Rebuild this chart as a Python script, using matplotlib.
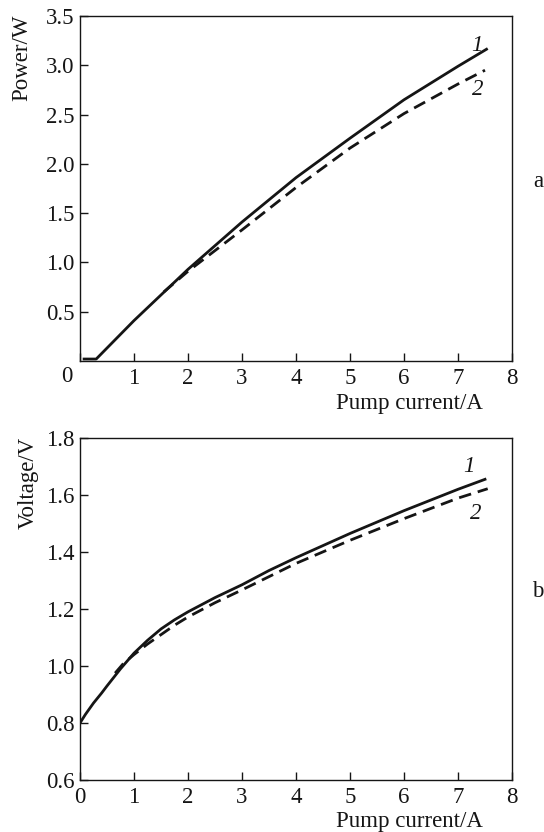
import matplotlib.pyplot as plt
from matplotlib.transforms import blended_transform_factory

# curve 1 (solid) and curve 2 (dashed), power
current_p1 = [0.05, 0.3, 1.0, 2.0, 3.0, 4.0, 5.0, 6.0, 7.0, 7.55]
power_1 = [0.02, 0.02, 0.41, 0.93, 1.41, 1.86, 2.26, 2.65, 2.99, 3.17]
current_p2 = [1.55, 2.0, 3.0, 4.0, 5.0, 6.0, 7.0, 7.5]
power_2 = [0.70, 0.91, 1.33, 1.76, 2.16, 2.51, 2.81, 2.95]

# voltage
current_v1 = [0.0, 0.1, 0.25, 0.4, 0.5, 0.75, 1.0, 1.25, 1.5, 1.75, 2.0, 2.5, 3.0, 3.5, 4.0, 5.0, 6.0, 7.0, 7.5]
voltage_1 = [0.80, 0.83, 0.87, 0.905, 0.93, 0.99, 1.045, 1.09, 1.13, 1.162, 1.19, 1.24, 1.285, 1.335, 1.38, 1.465, 1.545, 1.62, 1.655]
current_v2 = [0.65, 0.8, 1.0, 1.25, 1.5, 1.75, 2.0, 2.5, 3.0, 4.0, 5.0, 6.0, 7.0, 7.55]
voltage_2 = [0.975, 1.008, 1.04, 1.077, 1.11, 1.143, 1.172, 1.222, 1.267, 1.36, 1.441, 1.517, 1.589, 1.622]

x_ticks = [0, 1, 2, 3, 4, 5, 6, 7, 8]
power_ticks = [0.5, 1.0, 1.5, 2.0, 2.5, 3.0, 3.5]
voltage_ticks = [0.6, 0.8, 1.0, 1.2, 1.4, 1.6, 1.8]

plt.rcParams['font.family'] = ['Liberation Serif', 'DejaVu Serif']
fs = 16.5
col = '#151515'

fig = plt.figure(figsize=(5.44, 8.32), dpi=100)
ax1 = fig.add_axes([80/544, 1 - 361/832, 432/544, 345/832])
ax2 = fig.add_axes([80/544, 1 - 780/832, 432/544, 342/832])


def style(ax, yticks, fmt):
    ax.set_xlim(0, 8)
    ax.set_ylim(yticks[0] if fmt == 'v' else 0, yticks[-1])
    ax.set_xticks(x_ticks)
    ax.set_yticks(yticks)
    ax.set_yticklabels(['%.1f' % t for t in yticks])
    ax.tick_params(direction='in', length=6, width=1, color=col,
                   labelsize=fs, labelcolor=col, top=False, right=False)
    ax.tick_params(axis='x', pad=5)
    ax.tick_params(axis='y', pad=4)
    for s in ax.spines.values():
        s.set_linewidth(1.0)
        s.set_color(col)


style(ax1, power_ticks, 'p')
style(ax2, voltage_ticks, 'v')

# top panel: origin "0" sits left of the corner
ax1.set_xticklabels([''] + [str(t) for t in x_ticks[1:]])
tr = blended_transform_factory(ax1.transData, ax1.transAxes)
ax1.text(-0.25, -0.015, '0', transform=tr, ha='center', va='top', fontsize=fs, color=col)

ax1.plot(current_p1, power_1, color=col, lw=2.0, solid_capstyle='butt')
ax1.plot(current_p2, power_2, color=col, lw=2.0, dashes=(4.5, 2.5))
ax2.plot(current_v1, voltage_1, color=col, lw=2.0)
ax2.plot(current_v2, voltage_2, color=col, lw=2.0, dashes=(4.5, 2.5))

ax1.text(7.35, 3.2, '1', style='italic', fontsize=fs, color=col, ha='center', va='center')
ax1.text(7.37, 2.75, '2', style='italic', fontsize=fs, color=col, ha='center', va='center')
ax2.text(7.2, 1.70, '1', style='italic', fontsize=fs, color=col, ha='center', va='center')
ax2.text(7.32, 1.535, '2', style='italic', fontsize=fs, color=col, ha='center', va='center')

ax1.text(-0.134, 1.005, 'Power/W', rotation=90, transform=ax1.transAxes,
         ha='center', va='top', fontsize=fs, color=col)
ax2.text(-0.12, 1.005, 'Voltage/V', rotation=90, transform=ax2.transAxes,
         ha='center', va='top', fontsize=fs, color=col)

ax1.text(0.933, -0.122, 'Pump current/A', transform=ax1.transAxes,
         ha='right', va='center', fontsize=fs, color=col)
ax2.text(0.933, -0.122, 'Pump current/A', transform=ax2.transAxes,
         ha='right', va='center', fontsize=fs, color=col)

ax1.text(1.06, 0.52, 'a', transform=ax1.transAxes, ha='center', va='center', fontsize=fs, color=col)
ax2.text(1.06, 0.55, 'b', transform=ax2.transAxes, ha='center', va='center', fontsize=fs, color=col)

fig.savefig('out.png', dpi=100)
